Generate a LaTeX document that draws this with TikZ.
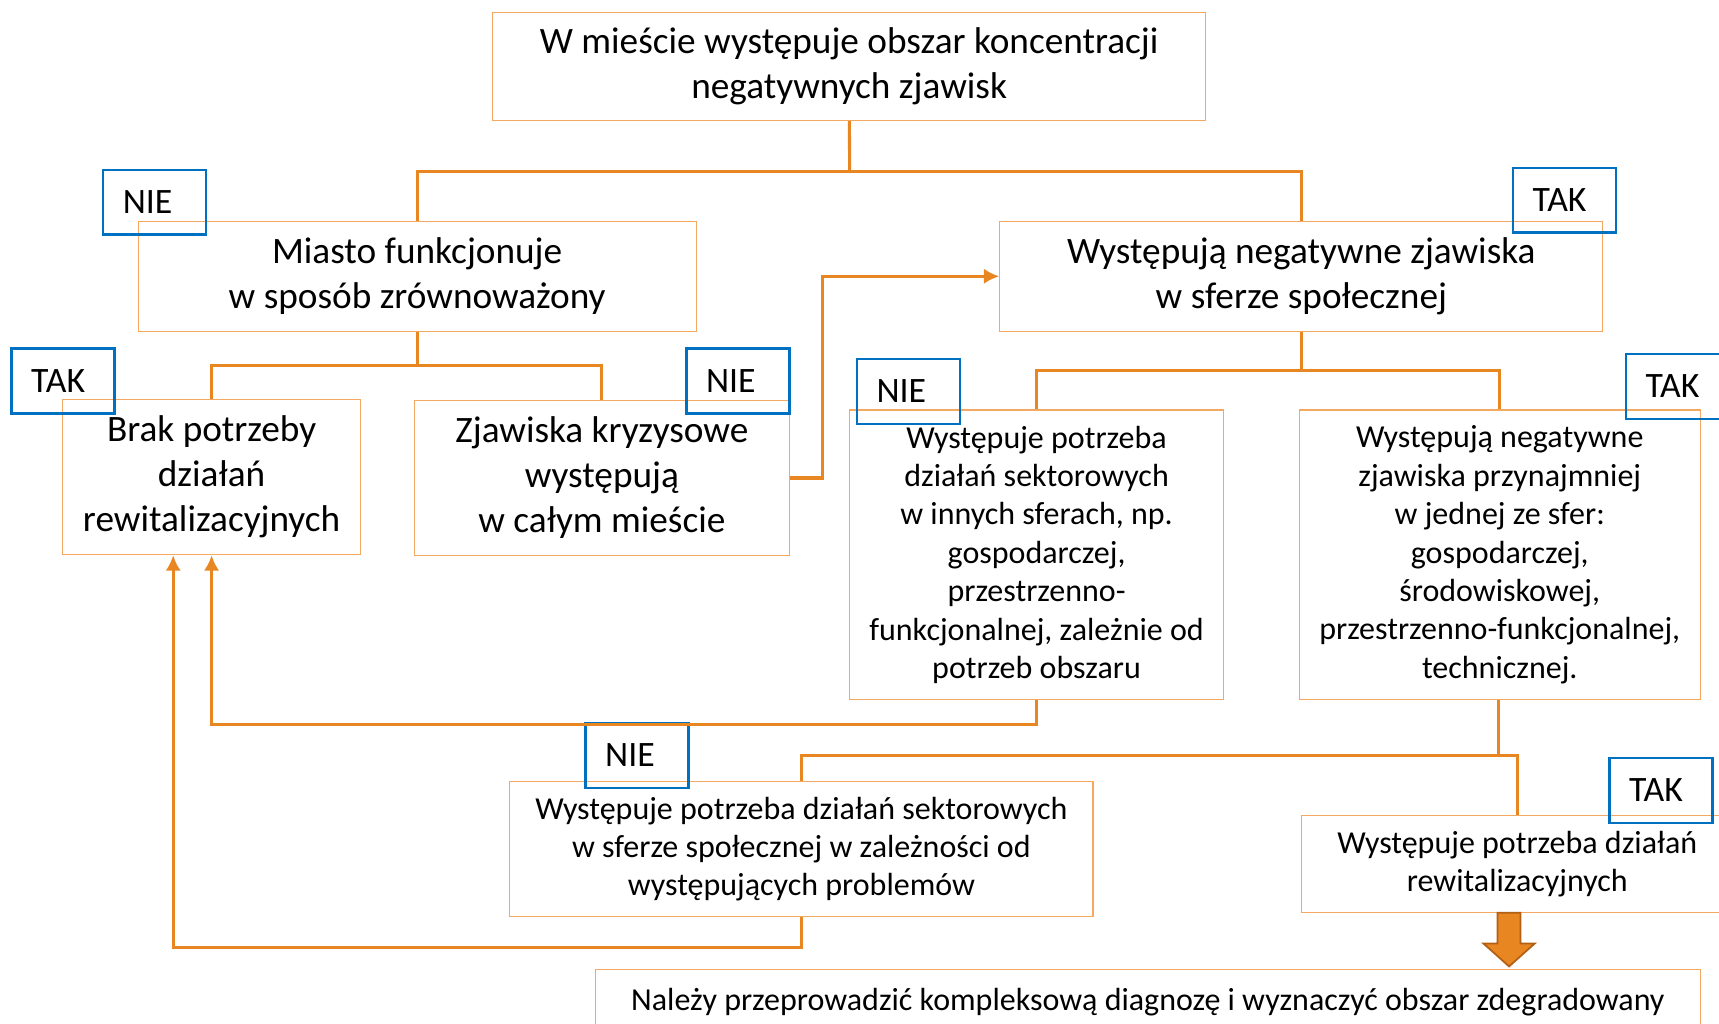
\documentclass[tikz,border=0pt]{standalone}
\usepackage{fontspec}
\setmainfont{Carlito}
\usepackage{tikz}
\usetikzlibrary{positioning,arrows.meta}
\definecolor{boxline}{RGB}{244,168,98}
\definecolor{connline}{RGB}{232,134,34}
\definecolor{darkorange}{RGB}{178,96,20}
\definecolor{labelblue}{RGB}{0,112,192}
\tikzset{
	box/.style={draw=boxline,line width=0.5pt,inner sep=0pt,align=center,font=\fontsize{17}{20.5}\selectfont},
	smallbox/.style={box,font=\fontsize{14.6}{17.5}\selectfont},
	answer/.style={draw=labelblue,line width=1.1pt,text width=29pt,inner xsep=9pt,inner ysep=0pt,minimum height=29.5pt,align=left,font=\fontsize{16.3}{19}\selectfont},
	conn/.style={draw=connline,line width=1.4pt},
	connarrow/.style={conn,-{Latex[length=7pt,width=7pt]}}
}

\begin{document}
\begin{tikzpicture}[x=0.5pt,y=-0.5pt]
		\useasboundingbox (0,0) rectangle (1568,934);
		\node[box,minimum width=325.5pt,minimum height=49.5pt] (top) at (774.5,60.5) {W mieście występuje obszar koncentracji\\negatywnych zjawisk};
		\node[box,minimum width=254.5pt,minimum height=50pt] (miasto) at (380.5,252) {Miasto funkcjonuje\\w sposób zrównoważony};
		\node[box,minimum width=275pt,minimum height=50pt] (spoleczna) at (1187,252) {Występują negatywne zjawiska\\w sferze społecznej};
		\node[box,minimum width=136pt,minimum height=71pt] (brak) at (193,435) {Brak potrzeby\\działań\\rewitalizacyjnych};
		\node[box,minimum width=171pt,minimum height=71pt] (kryzys) at (549,436) {Zjawiska kryzysowe\\występują\\w całym mieście};
		\node[smallbox,minimum width=170.5pt,minimum height=132pt] (sektor) at (945.5,506) {Występuje potrzeba\\działań sektorowych\\w innych sferach, np.\\gospodarczej,\\przestrzenno-\\funkcjonalnej, zależnie od\\potrzeb obszaru};
		\node[smallbox,minimum width=183pt,minimum height=132pt] (sfery) at (1368,506) {Występują negatywne\\zjawiska przynajmniej\\w jednej ze sfer:\\gospodarczej,\\środowiskowej,\\przestrzenno-funkcjonalnej,\\technicznej.};
		\node[smallbox,minimum width=266pt,minimum height=61.5pt] (spolsektor) at (731,774.5) {Występuje potrzeba działań sektorowych\\w sferze społecznej w zależności od\\występujących problemów};
		\node[smallbox,minimum width=197pt,minimum height=44pt] (rewit) at (1384,788) {Występuje potrzeba działań\\rewitalizacyjnych};
		\node[smallbox,minimum width=504pt,minimum height=30pt] (diagnoza) at (1047,914) {Należy przeprowadzić kompleksową diagnozę i wyznaczyć obszar zdegradowany};

		\node[answer] (nie1) at (141,184.5) {NIE};
		\node[answer] (tak1) at (1427,182.5) {TAK};
		\node[answer] (tak2) at (57.5,347.5) {TAK};
		\node[answer] (nie2) at (673,347.5) {NIE};
		\node[answer] (nie3) at (828.5,357) {NIE};
		\node[answer] (tak3) at (1530,352.5) {TAK};
		\node[answer] (nie4) at (581,689) {NIE};
		\node[answer] (tak4) at (1515,721) {TAK};

		\coordinate (j1) at (775,156);
		\coordinate (j2) at (380.5,333);
		\coordinate (j3) at (1187,338);
		\coordinate (j4) at (1367,689);
		\draw[conn] (top) -- (j1);
		\draw[conn] (j1) -| (miasto);
		\draw[conn] (j1) -| (spoleczna);
		\draw[conn] (miasto) -- (j2);
		\draw[conn] (j2) -| (brak);
		\draw[conn] (j2) -| (kryzys);
		\draw[connarrow] (kryzys.east) -- ++(30,0) |- (spoleczna.west);
		\draw[conn] (spoleczna) -- (j3);
		\draw[conn] (j3) -| (sektor);
		\draw[conn] (j3) -| (sfery);
		\draw[connarrow] (sektor.south) -- ++(0,22) -| (brak.south);
		\draw[conn] (sfery.south -| j4) -- (j4);
		\draw[conn] (j4) -| (spolsektor);
		\draw[conn] (j4) -| (rewit);
		\draw[connarrow] (spolsektor.south) -- ++(0,28) -| ([xshift=-17.5pt]brak.south);
		\draw[draw=darkorange,fill=connline,line width=0.8pt] ([xshift=-3.75pt]rewit.south) -- ++(-5.25pt,0) -- ++(0,28) -- ++(-6.5pt,0) -- ++(11.75pt,21) -- ++(11.75pt,-21) -- ++(-6.5pt,0) -- ++(0,-28) -- cycle;
	\end{tikzpicture}
\end{document}
